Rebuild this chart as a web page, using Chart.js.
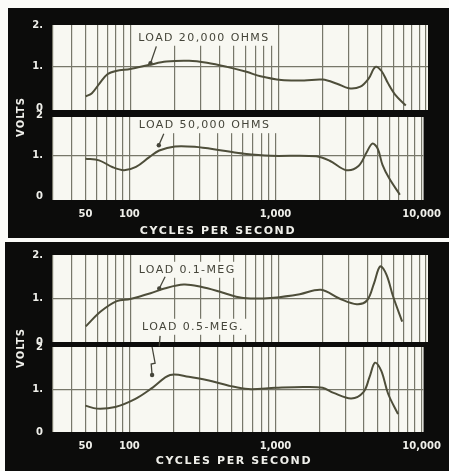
<!DOCTYPE html>
<html>
<head>
<meta charset="utf-8">
<script src="https://cdn.jsdelivr.net/npm/chart.js@4.4.1/dist/chart.umd.min.js"></script>
<style>
  body { margin: 0; background: #fbfbf8; }
  #page { position: relative; width: 449px; height: 471px; overflow: hidden; }
  .frame { position: absolute; background: #0c0c0b; }
  canvas { position: absolute; left: 0; top: 0; }
  .lbl { position: absolute; color: #efefea; font: bold 11px "DejaVu Sans", sans-serif; white-space: nowrap; transform: translate(-50%, -50%); }
  .volts { font-size: 10px; letter-spacing: 1px; transform: translate(-50%, -50%) rotate(-90deg); }
  .cps { letter-spacing: 1.6px; }
</style>
</head>
<body>
<div id="page">
  <div class="frame" style="left:8px;top:8px;width:441px;height:230px"></div>
  <div class="frame" style="left:5px;top:242px;width:444px;height:229px"></div>
  <canvas id="p1" width="449" height="471"></canvas>
  <canvas id="p2" width="449" height="471"></canvas>
  <canvas id="p3" width="449" height="471"></canvas>
  <canvas id="p4" width="449" height="471"></canvas>
  <div class="lbl volts" style="left:20px;top:117px">VOLTS</div>
  <div class="lbl cps" style="left:218px;top:230px">CYCLES PER SECOND</div>
  <div class="lbl volts" style="left:20px;top:348px">VOLTS</div>
  <div class="lbl cps" style="left:234px;top:460px">CYCLES PER SECOND</div>
</div>
<script>
// curves: frequency (c/s) and output (volts)
const load20kFreq = [50, 55, 62, 70, 80, 100, 135, 175, 250, 330, 450, 610, 760, 1050, 1500, 2000, 2500, 3000, 3600, 4100, 4550, 5000, 5500, 6200, 7300];
const load20kVolts = [0.28, 0.36, 0.60, 0.82, 0.90, 0.95, 1.05, 1.13, 1.15, 1.10, 1.00, 0.88, 0.77, 0.68, 0.67, 0.69, 0.59, 0.48, 0.52, 0.72, 1.00, 0.90, 0.62, 0.32, 0.06];

const load50kFreq = [50, 62, 77, 92, 111, 137, 160, 205, 280, 430, 610, 930, 1900, 2350, 3050, 3700, 4200, 4600, 5000, 5400, 6000, 7100];
const load50kVolts = [0.93, 0.89, 0.72, 0.65, 0.73, 0.97, 1.13, 1.23, 1.22, 1.13, 1.05, 1.00, 0.99, 0.88, 0.65, 0.75, 1.08, 1.30, 1.18, 0.78, 0.45, 0.05];

const load01Freq = [50, 63, 81, 100, 137, 170, 230, 300, 400, 520, 650, 930, 1400, 1950, 2600, 3400, 4000, 4450, 4900, 5400, 6000, 6900];
const load01Volts = [0.36, 0.70, 0.94, 0.99, 1.12, 1.23, 1.32, 1.27, 1.16, 1.04, 1.00, 1.02, 1.10, 1.20, 1.00, 0.87, 0.96, 1.35, 1.74, 1.55, 1.04, 0.47];

const load05Freq = [50, 60, 80, 110, 145, 190, 255, 350, 480, 650, 1000, 1550, 2100, 2500, 3300, 4000, 4400, 4800, 5300, 5900, 6900];
const load05Volts = [0.62, 0.55, 0.59, 0.78, 1.05, 1.34, 1.30, 1.21, 1.09, 1.01, 1.04, 1.06, 1.04, 0.92, 0.79, 0.94, 1.29, 1.63, 1.44, 0.90, 0.42];

const xTickValues = [50, 100, 1000, 10000];
const xTickLabels = ['50', '100', '1,000', '10,000'];
const yTickValues = [0, 1, 2];
const yLabelsA = ['0', '1.', '2.'];
const yLabelsB = ['0', '1.', '2'];

// log paper: a line at every 10, 100, 1000 step from 30 up to 10,000
const gridFreqs = [];
for (let d = 10; d <= 1000; d *= 10) {
  for (let k = 1; k <= 9; k++) if (k * d >= 30) gridFreqs.push(k * d);
}
gridFreqs.push(10000);

const PAPER = '#f8f8f2';
const GRID = '#77776a';
const CURVE = '#4e4e3a';
const NOTE = '#45453a';
const TICK = '#efefea';
const tickFont = { family: 'DejaVu Sans', size: 10, weight: 'bold' };

const paperPlugin = {
  id: 'paper',
  beforeDraw(chart) {
    const { ctx, chartArea: a } = chart;
    ctx.save();
    ctx.fillStyle = PAPER;
    ctx.fillRect(a.left, a.top, a.right - a.left, a.bottom - a.top);
    ctx.restore();
  }
};

function notePlugin(notes) {
  return {
    id: 'notes',
    beforeDatasetsDraw(chart) {
      const { ctx, chartArea: a, scales: { x, y } } = chart;
      ctx.save();
      notes.forEach(n => {
        if (n.text) {
          ctx.font = '11px "DejaVu Sans"';
          ctx.letterSpacing = '1.4px';
          const tx = x.getPixelForValue(n.f), ty = y.getPixelForValue(n.v);
          const w = ctx.measureText(n.text).width;
          const top = n.toTop ? a.top : ty - 8;
          ctx.fillStyle = PAPER;
          ctx.fillRect(tx - 4, top, w + 12, ty + 8 - top);
          ctx.fillStyle = NOTE;
          ctx.textBaseline = 'middle';
          ctx.fillText(n.text, tx, ty);
        }
        if (n.leader) {
          ctx.strokeStyle = NOTE;
          ctx.lineWidth = 1.3;
          ctx.beginPath();
          n.leader.forEach(([f, v], i) => {
            const px = x.getPixelForValue(f), py = y.getPixelForValue(v);
            if (i === 0) ctx.moveTo(px, py); else ctx.lineTo(px, py);
          });
          ctx.stroke();
          if (n.dot) {
            const [f, v] = n.leader[n.leader.length - 1];
            ctx.fillStyle = NOTE;
            ctx.beginPath();
            ctx.arc(x.getPixelForValue(f), y.getPixelForValue(v), 2.2, 0, Math.PI * 2);
            ctx.fill();
          }
        }
      });
      ctx.restore();
    }
  };
}

function panel(id, cfg) {
  const xh = cfg.showX ? 22 : 0;
  return new Chart(document.getElementById(id), {
    type: 'line',
    data: {
      datasets: [{
        data: cfg.freqs.map((f, i) => ({ x: f, y: cfg.volts[i] })),
        borderColor: CURVE,
        borderWidth: 2,
        pointRadius: 0,
        tension: 0.35,
        fill: false
      }]
    },
    options: {
      responsive: false,
      animation: false,
      devicePixelRatio: 1,
      layout: { padding: { left: 0, right: 21, top: cfg.top, bottom: 471 - cfg.bottom - xh } },
      plugins: { legend: { display: false }, tooltip: { enabled: false } },
      scales: {
        x: {
          type: 'logarithmic',
          min: 30,
          max: 10316,
          afterBuildTicks: s => { s.ticks = gridFreqs.map(v => ({ value: v })); },
          afterFit: s => { s.height = xh; },
          grid: { color: GRID, lineWidth: 1.2, drawTicks: false },
          border: { display: false },
          ticks: {
            display: cfg.showX,
            autoSkip: false,
            maxRotation: 0,
            minRotation: 0,
            padding: 8,
            color: TICK,
            font: tickFont,
            callback: v => {
              const i = xTickValues.indexOf(v);
              return i < 0 ? '' : xTickLabels[i];
            }
          }
        },
        y: {
          min: cfg.min,
          max: cfg.max,
          afterBuildTicks: s => { s.ticks = yTickValues.map(v => ({ value: v })); },
          afterFit: s => { s.width = 53; },
          grid: {
            color: c => (c.tick && c.tick.value === 1 ? GRID : 'rgba(0,0,0,0)'),
            lineWidth: 1.2,
            drawTicks: false
          },
          border: { display: false },
          ticks: {
            padding: 10,
            color: TICK,
            font: tickFont,
            callback: v => cfg.yLabels[yTickValues.indexOf(v)]
          }
        }
      }
    },
    plugins: [paperPlugin, notePlugin(cfg.notes || [])]
  });
}

panel('p1', {
  freqs: load20kFreq, volts: load20kVolts, top: 25, bottom: 110, min: -0.05, max: 2.02,
  showX: false, yLabels: yLabelsA,
  notes: [{ text: 'LOAD 20,000 OHMS', f: 113, v: 1.71, toTop: true, leader: [[150, 1.50], [137, 1.09]], dot: true }]
});

panel('p2', {
  freqs: load50kFreq, volts: load50kVolts, top: 117, bottom: 200, min: -0.08, max: 1.95,
  showX: true, yLabels: yLabelsB,
  notes: [{ text: 'LOAD 50,000 OHMS', f: 116, v: 1.75, toTop: true, leader: [[172, 1.54], [159, 1.26]], dot: true }]
});

panel('p3', {
  freqs: load01Freq, volts: load01Volts, top: 255, bottom: 342, min: 0, max: 2,
  showX: false, yLabels: yLabelsA,
  notes: [
    { text: 'LOAD 0.1-MEG', f: 114, v: 1.66, toTop: false, leader: [[172, 1.50], [157, 1.23]], dot: true },
    { text: 'LOAD 0.5-MEG.', f: 120, v: 0.35, toTop: false, leader: [[159, 0.14], [157, -0.1]], dot: false }
  ]
});

panel('p4', {
  freqs: load05Freq, volts: load05Volts, top: 347, bottom: 432, min: 0, max: 2,
  showX: true, yLabels: yLabelsB,
  notes: [{ leader: [[143, 2.0], [150, 1.62], [141, 1.60], [143, 1.34]], dot: true }]
});
</script>
</body>
</html>
